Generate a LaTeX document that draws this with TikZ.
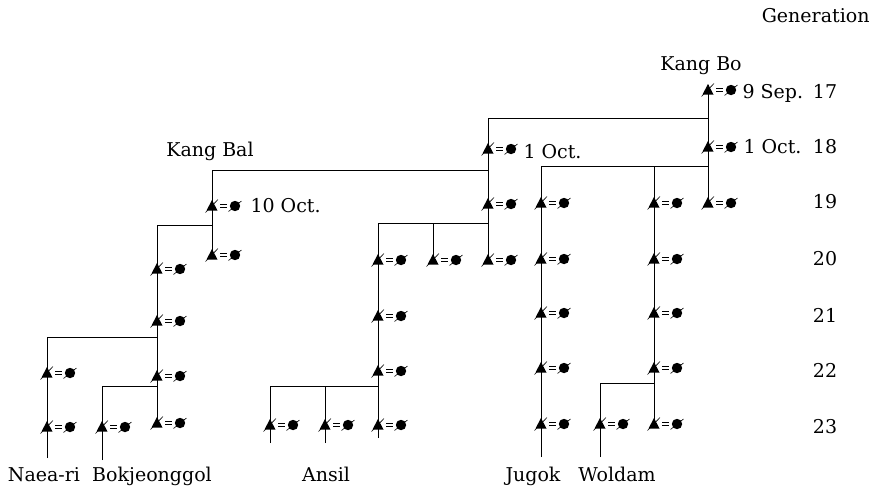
\documentclass[tikz,border=0pt]{standalone}
\usepackage{fontspec}
\setmainfont{DejaVu Serif}
\begin{document}
\begin{tikzpicture}[x=1pt,y=-1pt,line width=1pt,
  lbl/.style={font=\fontsize{19}{21}\selectfont,inner sep=0pt,anchor=base},
  couple/.pic={
    \fill (-5.5,4.5) -- (5.5,4.5) -- (0,-6) -- cycle;
    \draw[line width=0.6pt] (-6.5,6.5) -- (6,-6.5);
    \draw[line width=1pt] (8,-1.8) -- (14.5,-1.8) (8,1.8) -- (14.5,1.8);
    \fill (23,0) circle (5.2);
    \draw[line width=0.6pt] (16.5,5.5) -- (29.5,-5);
  }]
\useasboundingbox (0,0) rectangle (881,488);
% couple positions
\coordinate (kb17) at (708,90);
\coordinate (kb18) at (708,147);
\coordinate (kb19) at (708,203);
\coordinate (b18) at (488,149);
\coordinate (b19) at (488,204);
\coordinate (b20) at (488,260);
\coordinate (c20) at (433,260);
\coordinate (d20) at (378,260);
\coordinate (d21) at (378,316);
\coordinate (d22) at (378,371);
\coordinate (d23) at (378,425);
\coordinate (e23) at (325,425);
\coordinate (f23) at (270,425);
\coordinate (kbal19) at (212,206);
\coordinate (kbal20) at (212,255);
\coordinate (g20) at (157,269);
\coordinate (g21) at (157,321);
\coordinate (g22) at (157,376);
\coordinate (g23) at (157,423);
\coordinate (h22) at (47,373);
\coordinate (h23) at (47,427);
\coordinate (i23) at (102,427);
\coordinate (j19) at (541,203);
\coordinate (j20) at (541,259);
\coordinate (j21) at (541,313);
\coordinate (j22) at (541,368);
\coordinate (j23) at (541,424);
\coordinate (k19) at (654,203);
\coordinate (k20) at (654,259);
\coordinate (k21) at (654,313);
\coordinate (k22) at (654,368);
\coordinate (k23) at (654,424);
\coordinate (l23) at (600,424);
% junctions and line ends
\coordinate (kbtop) at (708,85);
\coordinate (jA) at (708,118);
\coordinate (jB) at (488,170);
\coordinate (jC) at (708,166);
\coordinate (jK) at (654,166);
\coordinate (jD) at (488,223);
\coordinate (jE) at (433,223);
\coordinate (jF) at (212,225);
\coordinate (jG) at (157,337);
\coordinate (jH) at (157,386);
\coordinate (jI) at (378,386);
\coordinate (jJ) at (325,386);
\coordinate (jL) at (654,383);
\coordinate (jbot) at (541,457);
\coordinate (hbot) at (47,458);
\coordinate (ibot) at (102,460);
\coordinate (dbot) at (378,438);
\coordinate (ebot) at (325,443);
\coordinate (fbot) at (270,443);
\coordinate (lbot) at (600,457);
% connectors
\draw (kbtop) -- (kb19);
\draw (b20) |- (jA);
\draw (kbal20) |- (jB);
\draw (jbot) |- (jC);
\draw (k23) -- (jK);
\draw (dbot) |- (jD);
\draw (c20) -- (jE);
\draw (g23) |- (jF);
\draw (hbot) |- (jG);
\draw (ibot) |- (jH);
\draw (fbot) |- (jI);
\draw (ebot) -- (jJ);
\draw (lbot) |- (jL);
% couple symbols
\foreach \p in {kb17,kb18,kb19,b18,b19,b20,c20,d20,d21,d22,d23,e23,f23,
  kbal19,kbal20,g20,g21,g22,g23,h22,h23,i23,j19,j20,j21,j22,j23,
  k19,k20,k21,k22,k23,l23}
  \pic at (\p) {couple};
% labels
\node[lbl,anchor=base east] (gen) at (870,22) {Generation};
\node[lbl] (nKangBo) at (701,70) {Kang Bo};
\node[lbl] (nKangBal) at (210,156) {Kang Bal};
\node[lbl,anchor=base west] (d1) at (742,98) {9 Sep.};
\node[lbl,anchor=base west] (d2) at (743,153) {1 Oct.};
\node[lbl,anchor=base west] (d3) at (523,158) {1 Oct.};
\node[lbl,anchor=base west] (d4) at (250,212) {10 Oct.};
\node[lbl] (g17) at (825,98) {17};
\node[lbl] (g18) at (825,153) {18};
\node[lbl] (g19) at (825,208) {19};
\node[lbl] (gg20) at (825,265) {20};
\node[lbl] (gg21) at (825,322) {21};
\node[lbl] (gg22) at (825,377) {22};
\node[lbl] (gg23) at (825,433) {23};
\node[lbl] (pNaea) at (44,481) {Naea-ri};
\node[lbl] (pBok) at (152,481) {Bokjeonggol};
\node[lbl] (pAnsil) at (326,481) {Ansil};
\node[lbl] (pJugok) at (533,481) {Jugok};
\node[lbl] (pWoldam) at (617,481) {Woldam};
\end{tikzpicture}
\end{document}
